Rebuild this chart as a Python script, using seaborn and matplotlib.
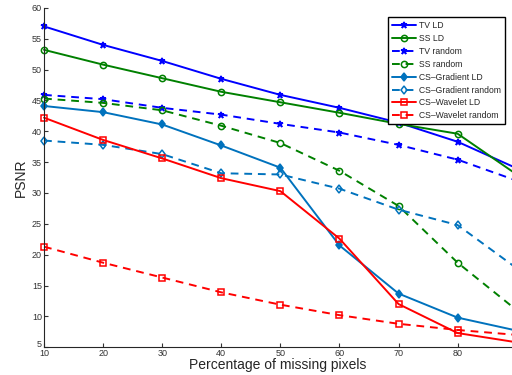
import numpy as np
import pandas as pd
import seaborn as sns
import matplotlib.pyplot as plt
import matplotlib.transforms as mtransforms

missing = [10, 20, 30, 40, 50, 60, 70, 80, 90]

tv_ld = [57.0, 54.0, 51.4, 48.5, 45.9, 43.8, 41.4, 38.3, 34.0]
ss_ld = [53.2, 50.8, 48.6, 46.4, 44.7, 43.0, 41.2, 39.6, 33.0]
tv_random = [45.9, 45.2, 43.8, 42.7, 41.2, 39.8, 37.8, 35.4, 32.0]
ss_random = [45.3, 44.6, 43.4, 40.9, 38.1, 33.6, 27.9, 18.7, 11.0]
csg_ld = [44.1, 43.1, 41.1, 37.7, 34.1, 21.5, 13.7, 9.8, 7.7]
csg_random = [38.5, 37.8, 36.3, 33.2, 33.0, 30.7, 27.3, 24.8, 17.8]
csw_ld = [42.2, 38.6, 35.6, 32.4, 30.3, 22.6, 12.0, 7.3, 5.8]
csw_random = [21.3, 18.7, 16.3, 13.9, 11.9, 10.2, 8.8, 7.8, 7.0]

series = [
    ("TV LD", tv_ld, "#0000ff", "-", "*", True),
    ("SS LD", ss_ld, "#008000", "-", "o", False),
    ("TV random", tv_random, "#0000ff", "--", "*", True),
    ("SS random", ss_random, "#008000", "--", "o", False),
    ("CS\u2013Gradient LD", csg_ld, "#0072bd", "-", "d", True),
    ("CS\u2013Gradient random", csg_random, "#0072bd", "--", "d", False),
    ("CS\u2013Wavelet LD", csw_ld, "#ff0000", "-", "s", False),
    ("CS\u2013Wavelet random", csw_random, "#ff0000", "--", "s", False),
]
msize = {"*": 5, "o": 4.5, "d": 4.5, "s": 4.5}

sns.set_style("ticks")
plt.rcParams['font.family'] = ['Liberation Sans', 'DejaVu Sans']

fig = plt.figure(figsize=(5.12, 3.75), dpi=100)
ax = fig.add_axes([0.086, 0.074, 0.914, 0.905])

for name, vals, col, ls, mk, filled in series:
    df = pd.DataFrame({"x": missing, "y": vals})
    sns.lineplot(data=df, x="x", y="y", ax=ax, color=col, linestyle=ls,
                 marker=mk, markersize=msize[mk],
                 markerfacecolor=col if filled else "none",
                 markeredgecolor=col, markeredgewidth=1.1,
                 linewidth=1.4, label=name, clip_on=False)
    if ls == "--":
        ax.lines[-1].set_dashes((4, 3))

ax.set_xlim(10, 89.2)
ax.set_ylim(5, 60)
ax.set_xticks([10, 20, 30, 40, 50, 60, 70, 80])
ax.set_yticks(range(5, 61, 5))
ax.tick_params(direction="in", labelsize=6.5, length=3, pad=1.5, colors="#333333")
ax.set_xlabel("Percentage of missing pixels", fontsize=10, labelpad=0)
ax.set_ylabel("PSNR", fontsize=10, labelpad=3)
sns.despine(ax=ax)

# nudge the "5" label up a little so it doesn't sit on the "10"
lab5 = ax.get_yticklabels()[0]
lab5.set_transform(lab5.get_transform() + mtransforms.ScaledTranslation(0, 3 / 72, fig.dpi_scale_trans))

leg = ax.legend(loc="upper right", bbox_to_anchor=(0.995, 0.985), fontsize=6.2,
                frameon=True, fancybox=False, edgecolor="black",
                handlelength=2.8, borderpad=0.45, labelspacing=0.45,
                handletextpad=0.4, framealpha=1)
leg.get_frame().set_linewidth(1.0)

fig.savefig("out.png", dpi=100)
